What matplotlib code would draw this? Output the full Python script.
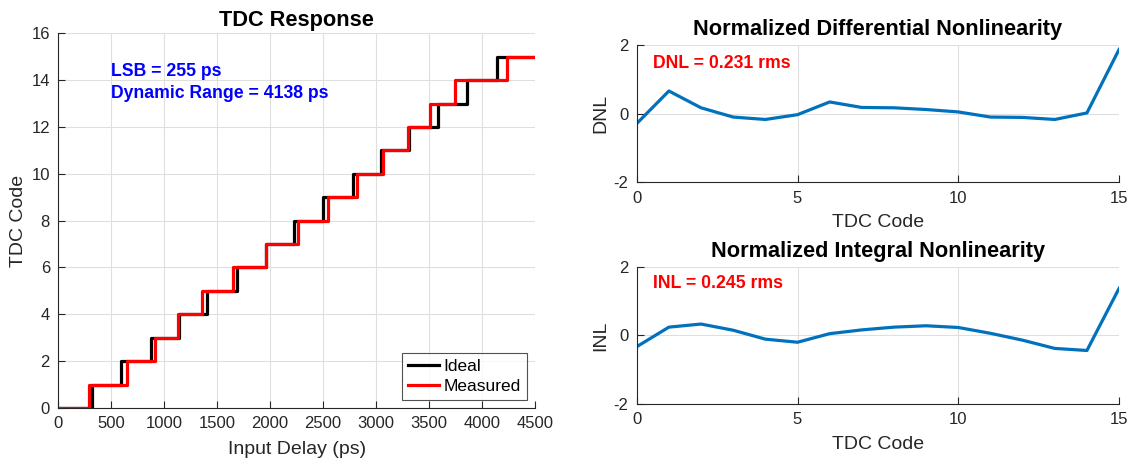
import matplotlib
matplotlib.use("Agg")
import matplotlib.pyplot as plt

plt.rcParams['font.family'] = ['Liberation Sans', 'DejaVu Sans']
plt.rcParams['axes.unicode_minus'] = False

# Transition delays (ps) where the output code steps from k to k+1
ideal_edges = [321, 592, 872, 1136, 1400, 1684, 1961, 2228, 2502, 2779,
               3046, 3314, 3588, 3861, 4138]
measured_edges = [293, 645, 913, 1133, 1353, 1646, 1961, 2266, 2549, 2817,
                  3068, 3298, 3509, 3745, 4239]
codes = list(range(16))
delay_max = 4500

dnl = [-0.29, 0.66, 0.17, -0.10, -0.17, -0.03, 0.34, 0.18, 0.17, 0.12,
       0.05, -0.10, -0.11, -0.17, 0.02, 1.87]
inl = [-0.33, 0.24, 0.33, 0.15, -0.11, -0.20, 0.05, 0.16, 0.24, 0.28,
       0.23, 0.06, -0.14, -0.38, -0.44, 1.37]

lsb_ps = 255
range_ps = 4138
dnl_rms = 0.231
inl_rms = 0.245

TXT = '#262626'
AX = '#262626'
GRID = '#dfdfdf'
BLUE = '#0072BD'
TITLE_FS = 15.7
LABEL_FS = 14
TICK_FS = 12
NOTE_FS = 12.7

fig = plt.figure(figsize=(11.36, 4.61), dpi=100)


def style(ax):
    for s in ('top', 'right'):
        ax.spines[s].set_visible(False)
    for s in ('left', 'bottom'):
        ax.spines[s].set_color(AX)
        ax.spines[s].set_linewidth(0.8)
    ax.tick_params(direction='in', length=5, width=0.8, colors=AX,
                   labelcolor=TXT, labelsize=TICK_FS, top=False, right=False,
                   pad=6)
    ax.grid(True, color=GRID, linewidth=0.8)
    ax.set_axisbelow(True)


# Transfer curve
ax1 = fig.add_axes([0.0513, 0.1150, 0.4196, 0.8128])
style(ax1)
xi = [0] + ideal_edges + [delay_max]
xm = [0] + measured_edges + [delay_max]
yv = codes + [codes[-1]]
ax1.step(xi, yv, where='post', color='black', lw=2.3, label='Ideal')
ax1.step(xm, yv, where='post', color='#ff0000', lw=2.3, label='Measured')
ax1.set_xlim(0, delay_max)
ax1.set_ylim(0, 16)
ax1.set_xticks(range(0, 4501, 500))
ax1.set_yticks(range(0, 17, 2))
ax1.set_xlabel('Input Delay (ps)', fontsize=LABEL_FS, color=TXT, labelpad=7)
ax1.set_ylabel('TDC Code', fontsize=LABEL_FS, color=TXT, labelpad=3)
ax1.set_title('TDC Response', fontsize=TITLE_FS, fontweight='bold', pad=5)
ax1.text(497, 14.38, f'LSB = {lsb_ps} ps', color='#0000ff', fontsize=NOTE_FS,
         fontweight='bold', va='center')
ax1.text(497, 13.44, f'Dynamic Range = {range_ps} ps', color='#0000ff',
         fontsize=NOTE_FS, fontweight='bold', va='center')
leg = ax1.legend(loc='lower right', fontsize=12.5, frameon=True, fancybox=False,
                 handlelength=1.75, handletextpad=0.3, borderpad=0.35,
                 labelspacing=0.3, borderaxespad=0.45)
leg.get_frame().set_edgecolor('#262626')
leg.get_frame().set_linewidth(0.8)

# DNL
ax2 = fig.add_axes([0.5605, 0.6046, 0.4246, 0.2978])
style(ax2)
ax2.plot(codes, dnl, color=BLUE, lw=2.3)
ax2.set_xlim(0, 15)
ax2.set_ylim(-2, 2)
ax2.set_xticks([0, 5, 10, 15])
ax2.set_yticks([-2, 0, 2])
ax2.set_xlabel('TDC Code', fontsize=LABEL_FS, color=TXT, labelpad=6)
ax2.set_ylabel('DNL', fontsize=LABEL_FS, color=TXT, labelpad=3)
ax2.set_title('Normalized Differential Nonlinearity', fontsize=TITLE_FS,
              fontweight='bold', pad=7)
ax2.text(0.5, 1.47, f'DNL = {dnl_rms} rms', color='#ff0000', fontsize=NOTE_FS,
         fontweight='bold', va='center')

# INL
ax3 = fig.add_axes([0.5605, 0.1236, 0.4246, 0.2978])
style(ax3)
ax3.plot(codes, inl, color=BLUE, lw=2.3)
ax3.set_xlim(0, 15)
ax3.set_ylim(-2, 2)
ax3.set_xticks([0, 5, 10, 15])
ax3.set_yticks([-2, 0, 2])
ax3.set_xlabel('TDC Code', fontsize=LABEL_FS, color=TXT, labelpad=6)
ax3.set_ylabel('INL', fontsize=LABEL_FS, color=TXT, labelpad=3)
ax3.set_title('Normalized Integral Nonlinearity', fontsize=TITLE_FS,
              fontweight='bold', pad=7)
ax3.text(0.5, 1.5, f'INL = {inl_rms} rms', color='#ff0000', fontsize=NOTE_FS,
         fontweight='bold', va='center')

fig.savefig('out.png', dpi=100, facecolor='white')
